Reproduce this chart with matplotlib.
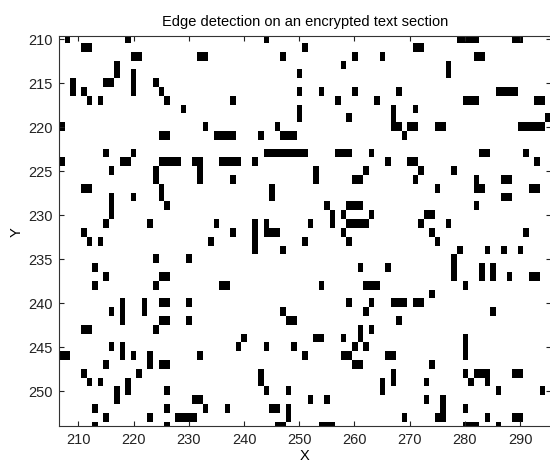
import numpy as np
import matplotlib
matplotlib.use("Agg")
import matplotlib.pyplot as plt
from matplotlib.colors import ListedColormap

plt.rcParams['font.family'] = ['Liberation Sans', 'DejaVu Sans']

# ---- data: pixel grid extent ----
x_values = list(range(207, 296))   # columns
y_values = list(range(210, 255))   # rows

# ---- edge pixels (black) listed per row: column indices ----
edge_cols_per_row = [
    [208, 219, 244, 279, 280, 281, 282, 289, 290],                       # 210
    [211, 212, 251, 271, 272],                                            # 211
    [220, 221, 232, 233, 247, 260, 265, 282, 283],                        # 212
    [217, 258, 277],                                                      # 213
    [217, 220, 250, 277],                                                 # 214
    [209, 215, 216, 220, 224],                                            # 215
    [209, 211, 220, 225, 250, 254, 260, 268, 286, 287, 288, 289],         # 216
    [212, 214, 226, 238, 257, 264, 280, 281, 282, 293, 294],              # 217
    [229, 250, 267, 271],                                                 # 218
    [250, 259, 267, 295],                                                 # 219
    [207, 233, 246, 267, 268, 270, 271, 275, 276, 290, 291, 292, 293, 294],  # 220
    [225, 226, 235, 236, 237, 238, 243, 247, 248, 249, 269],              # 221
    [],                                                                   # 222
    [215, 220, 244, 245, 246, 247, 248, 249, 250, 251, 257, 258, 259, 263, 283, 284, 291],  # 223
    [207, 218, 219, 225, 226, 227, 228, 231, 232, 236, 237, 238, 239, 242, 266, 270, 271, 293],  # 224
    [216, 224, 232, 253, 262, 272, 278],                                  # 225
    [224, 232, 238, 253, 260, 261, 271, 282, 287, 288],                   # 226
    [211, 212, 225, 245, 275, 282, 283, 292, 293],                        # 227
    [216, 220, 225, 245, 287, 288],                                       # 228
    [216, 226, 255, 259, 260, 261, 282],                                  # 229
    [216, 256, 258, 263, 273, 274],                                       # 230
    [215, 223, 235, 242, 244, 252, 256, 259, 260, 261, 262, 272, 277],    # 231
    [211, 238, 242, 244, 245, 246, 258, 274, 291],                        # 232
    [212, 214, 234, 242, 251, 259, 275],                                  # 233
    [242, 247, 279, 284, 287, 290],                                       # 234
    [224, 230, 278],                                                      # 235
    [213, 261, 266, 278, 283, 285],                                       # 236
    [215, 225, 226, 278, 283, 285, 288, 292, 293],                        # 237
    [213, 224, 236, 237, 254, 262, 263, 264, 280],                        # 238
    [274],                                                                # 239
    [218, 222, 225, 226, 230, 259, 263, 267, 268, 269, 271, 272],         # 240
    [216, 218, 222, 247, 262, 285],                                       # 241
    [218, 225, 226, 230, 248, 249, 268],                                  # 242
    [211, 212, 224, 261, 263],                                            # 243
    [240, 253, 254, 258, 261, 280],                                       # 244
    [216, 218, 239, 244, 249, 260, 262, 280],                             # 245
    [207, 208, 218, 220, 223, 232, 251, 258, 259, 266, 267, 280],         # 246
    [215, 223, 225, 226, 260, 261, 274],                                  # 247
    [211, 221, 243, 267, 280, 282, 283, 284, 289, 290],                   # 248
    [212, 214, 219, 243, 265, 267, 273, 281, 284],                        # 249
    [217, 219, 226, 244, 248, 265, 286, 294],                             # 250
    [217, 231, 232, 252, 255, 273, 276],                                  # 251
    [213, 226, 233, 237, 245, 246, 248, 276, 280],                        # 252
    [215, 223, 228, 229, 230, 231, 248, 269, 275, 276, 284, 289, 290],    # 253
    [213, 226, 246, 247, 254, 255, 256, 280, 281, 282, 286],              # 254
]

x_ticks = [210, 220, 230, 240, 250, 260, 270, 280, 290]
y_ticks = [210, 215, 220, 225, 230, 235, 240, 245, 250]
title_text = "Edge detection on an encrypted text section"

# ---- build binary image ----
img = np.zeros((len(y_values), len(x_values)))
for r, cols in zip(y_values, edge_cols_per_row):
    for c in cols:
        img[r - y_values[0], c - x_values[0]] = 1

fig = plt.figure(figsize=(5.5, 4.64), dpi=100)
ax = fig.add_axes([59 / 550, (464 - 427) / 464, (550.5 - 59) / 550, (427 - 37) / 464])

cmap = ListedColormap(['white', 'black'])
ax.imshow(img, cmap=cmap, vmin=0, vmax=1, interpolation='nearest', aspect='auto',
          extent=(x_values[0] - 0.5, x_values[-1] + 0.5, y_values[-1] + 0.5, y_values[0] - 0.5))
ax.set_xlim(206.5, 295.5)
ax.set_ylim(254.0, 209.7)

ax.set_xticks(x_ticks)
ax.set_yticks(y_ticks)
ax.tick_params(direction='in', length=3.5, width=0.8, top=True, right=True,
               labelsize=10.5, pad=4.5, colors='#222222')
for s in ax.spines.values():
    s.set_color('#333333')
    s.set_linewidth(0.8)

ax.set_xlabel("X", fontsize=10.5, labelpad=1)
ax.set_ylabel("Y", fontsize=10.5, labelpad=3)
ax.set_title(title_text, fontsize=10.5, pad=8)

fig.savefig("out.png", dpi=100)
